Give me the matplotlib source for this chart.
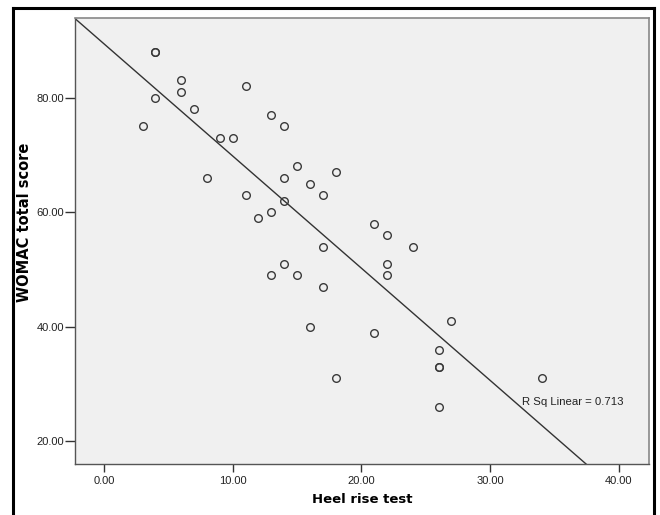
#!/usr/bin/env python3
"""Scatter of WOMAC total score vs heel rise test with linear fit (SPSS style)."""

import matplotlib

matplotlib.use("Agg")
import matplotlib.pyplot as plt
import numpy as np
from matplotlib.lines import Line2D

heel_rise = [4, 4, 6, 6, 4, 11, 7, 13, 14, 3, 9, 10, 15, 18, 14, 8, 16, 17, 11, 14,
             13, 12, 17, 21, 22, 24, 14, 13, 15, 17, 16, 18, 22, 22, 27, 21, 26, 26,
             26, 34, 26]
womac = [88, 88, 83, 81, 80, 82, 78, 77, 75, 75, 73, 73, 68, 67, 66, 66, 65, 63, 63, 62,
         60, 59, 54, 58, 56, 54, 51, 49, 49, 47, 40, 31, 51, 49, 41, 39, 36, 33,
         33, 31, 26]
x_ticks = [0, 10, 20, 30, 40]
y_ticks = [20, 40, 60, 80]
r_sq_label = "R Sq Linear = 0.713"


def main() -> None:
    plt.rcParams["font.family"] = ["Liberation Sans", "DejaVu Sans"]

    fig = plt.figure(figsize=(6.6, 5.15), dpi=100)
    ax = fig.add_axes([0.1136, 0.0996, 0.8697, 0.8655])
    ax.set_facecolor("#f0f0f0")

    x = np.array(heel_rise, dtype=float)
    y = np.array(womac, dtype=float)

    # linear fit line, clipped by the axes
    slope, intercept = np.polyfit(x, y, 1)
    xs = np.array([-5, 50])
    ax.plot(xs, slope * xs + intercept, color="#333333", linewidth=1.0)

    ax.plot(x, y, linestyle="none", marker="o", markersize=5.5,
            markerfacecolor="none", markeredgecolor="#3a3a3a", markeredgewidth=1.0)

    ax.text(32.5, 26.8, r_sq_label, fontsize=8.2, va="center", ha="left",
            color="#222222")

    ax.set_xlim(-2.25, 42.35)
    ax.set_ylim(16.1, 93.9)
    ax.set_xticks(x_ticks)
    ax.set_yticks(y_ticks)
    ax.set_xticklabels([f"{v:.2f}" for v in x_ticks])
    ax.set_yticklabels([f"{v:.2f}" for v in y_ticks])
    ax.tick_params(axis="both", direction="out", width=1, color="#333333",
                   labelsize=8, labelcolor="#222222")
    ax.tick_params(axis="x", length=6, pad=3)
    ax.tick_params(axis="y", length=7, pad=1)

    for side in ("left", "bottom"):
        ax.spines[side].set_color("#555555")
        ax.spines[side].set_linewidth(1.0)
    for side in ("top", "right"):
        ax.spines[side].set_color("#888888")
        ax.spines[side].set_linewidth(1.2)

    ax.set_xlabel("Heel rise test", family="DejaVu Sans", fontsize=9.5,
                  fontweight="bold", va="center")
    ax.set_ylabel("WOMAC total score", family="DejaVu Sans", fontsize=10.5,
                  fontweight="bold", va="center")
    ax.xaxis.set_label_coords(0.5, (464 - 500) / 446)
    ax.yaxis.set_label_coords((25 - 75) / 574, (464 - 222) / 446)

    # outer frame (left, top, right)
    fx0, fx1 = 12.5 / 660, 654 / 660
    fy_top = 1 - 7.5 / 515
    for xd, yd in (([fx0, fx0], [0, fy_top]), ([fx0, fx1], [fy_top, fy_top]),
                   ([fx1, fx1], [fy_top, 0])):
        fig.add_artist(Line2D(xd, yd, transform=fig.transFigure, color="black",
                              linewidth=2.2))

    fig.savefig("out.png", dpi=100)
    plt.close(fig)


if __name__ == "__main__":
    main()
